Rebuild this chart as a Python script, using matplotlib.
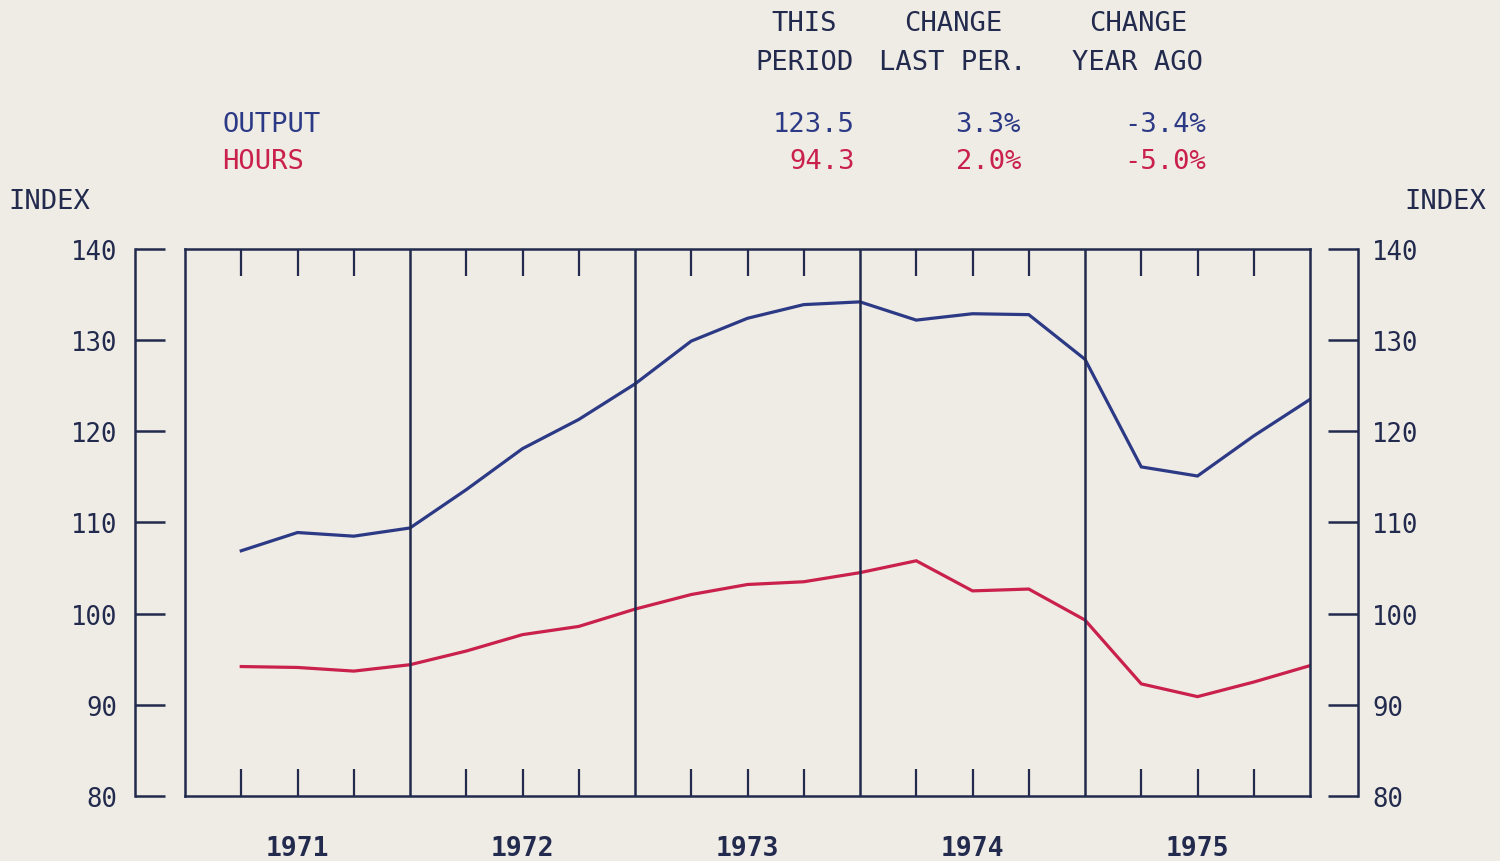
import matplotlib
matplotlib.use("Agg")
import matplotlib.pyplot as plt
import numpy as np

# ---- data (quarterly index values, 1971-1975) ----
years = ["1971", "1972", "1973", "1974", "1975"]
output_idx = [106.9, 108.9, 108.5, 109.4,
              113.6, 118.1, 121.3, 125.2,
              129.9, 132.4, 133.9, 134.2,
              132.2, 132.9, 132.8, 127.9,
              116.1, 115.1, 119.5, 123.5]
hours_idx = [94.2, 94.1, 93.7, 94.4,
             95.9, 97.7, 98.6, 100.5,
             102.1, 103.2, 103.5, 104.5,
             105.8, 102.5, 102.7, 99.3,
             92.3, 90.9, 92.5, 94.3]
series_names = ["OUTPUT", "HOURS"]
this_period = ["123.5", "94.3"]
chg_last = ["3.3%", "2.0%"]
chg_year = ["-3.4%", "-5.0%"]
yticks = [80, 90, 100, 110, 120, 130, 140]

BG = "#efebe5"
NAVY = "#222a4e"
BLUE = "#2c3a86"
RED = "#c9204c"
FONT = "DejaVu Sans Mono"

W, H = 1500, 862
fig = plt.figure(figsize=(W / 100, H / 100), dpi=100, facecolor=BG)

def fx(px):
    return px / W

def fy(py):
    return 1 - py / H

left, right, top, bottom = 185, 1310, 250, 797
ax = fig.add_axes([fx(left), fy(bottom), fx(right - left), (bottom - top) / H])
ax.set_facecolor("none")

n = len(output_idx)
q = np.arange(1, n + 1)
ax.plot(q, output_idx, color=BLUE, lw=2.3, solid_joinstyle="miter")
ax.plot(q, hours_idx, color=RED, lw=2.3, solid_joinstyle="miter")
ax.set_xlim(0, n)
ax.set_ylim(80, 140)
ax.set_yticks([])

for s in ax.spines.values():
    s.set_color(NAVY)
    s.set_linewidth(1.8)

# year boundary lines
for k in range(4, n, 4):
    ax.axvline(k, color=NAVY, lw=1.8)

# quarter ticks (major, no labels), year labels (minor)
qt = [k for k in range(1, n) if k % 4 != 0]
ax.set_xticks(qt)
ax.tick_params(axis="x", which="major", direction="in", length=19.5, width=1.6,
               color=NAVY, top=True, bottom=True, labelbottom=False)
ax.xaxis.remove_overlapping_locs = False
ax.set_xticks([4 * i + 2 for i in range(len(years))], minor=True)
ax.set_xticklabels(years, minor=True, fontfamily=FONT, fontsize=19,
                   color=NAVY, fontweight="bold")
ax.tick_params(axis="x", which="minor", direction="in", length=0, pad=28)

def side_axis(x0, side):
    a = fig.add_axes([fx(x0), fy(bottom), fx(30), (bottom - top) / H])
    a.set_facecolor("none")
    a.set_ylim(80, 140)
    a.set_xticks([])
    for k, s in a.spines.items():
        s.set_visible(k == side)
    a.spines[side].set_color(NAVY)
    a.spines[side].set_linewidth(1.8)
    if side == "right":
        a.yaxis.tick_right()
    a.set_yticks(yticks)
    a.set_yticklabels([str(v) for v in yticks], fontfamily=FONT, fontsize=18.5, color=NAVY)
    a.tick_params(axis="y", direction="in", length=21.6, width=1.8, color=NAVY,
                  pad=13 if side == "left" else 10)
    return a

side_axis(135, "left")
side_axis(1328, "right")

# header table
fs = 19.5
tk = dict(fontfamily=FONT, fontsize=fs, va="center")
fig.text(fx(804), fy(24), "THIS", color=NAVY, ha="center", **tk)
fig.text(fx(804), fy(63), "PERIOD", color=NAVY, ha="center", **tk)
fig.text(fx(953), fy(24), "CHANGE", color=NAVY, ha="center", **tk)
fig.text(fx(953), fy(63), "LAST PER.", color=NAVY, ha="center", **tk)
fig.text(fx(1138), fy(24), "CHANGE", color=NAVY, ha="center", **tk)
fig.text(fx(1138), fy(63), "YEAR AGO", color=NAVY, ha="center", **tk)

colors = [BLUE, RED]
rows_y = [125, 162]
for i in range(2):
    c = colors[i]
    fig.text(fx(222), fy(rows_y[i]), series_names[i], color=c, ha="left", **tk)
    fig.text(fx(855), fy(rows_y[i]), this_period[i], color=c, ha="right", **tk)
    fig.text(fx(1021), fy(rows_y[i]), chg_last[i], color=c, ha="right", **tk)
    fig.text(fx(1206), fy(rows_y[i]), chg_year[i], color=c, ha="right", **tk)

fig.text(fx(8), fy(202), "INDEX", color=NAVY, ha="left", **tk)
fig.text(fx(1486), fy(202), "INDEX", color=NAVY, ha="right", **tk)

fig.savefig("out.png", dpi=100, facecolor=BG)
